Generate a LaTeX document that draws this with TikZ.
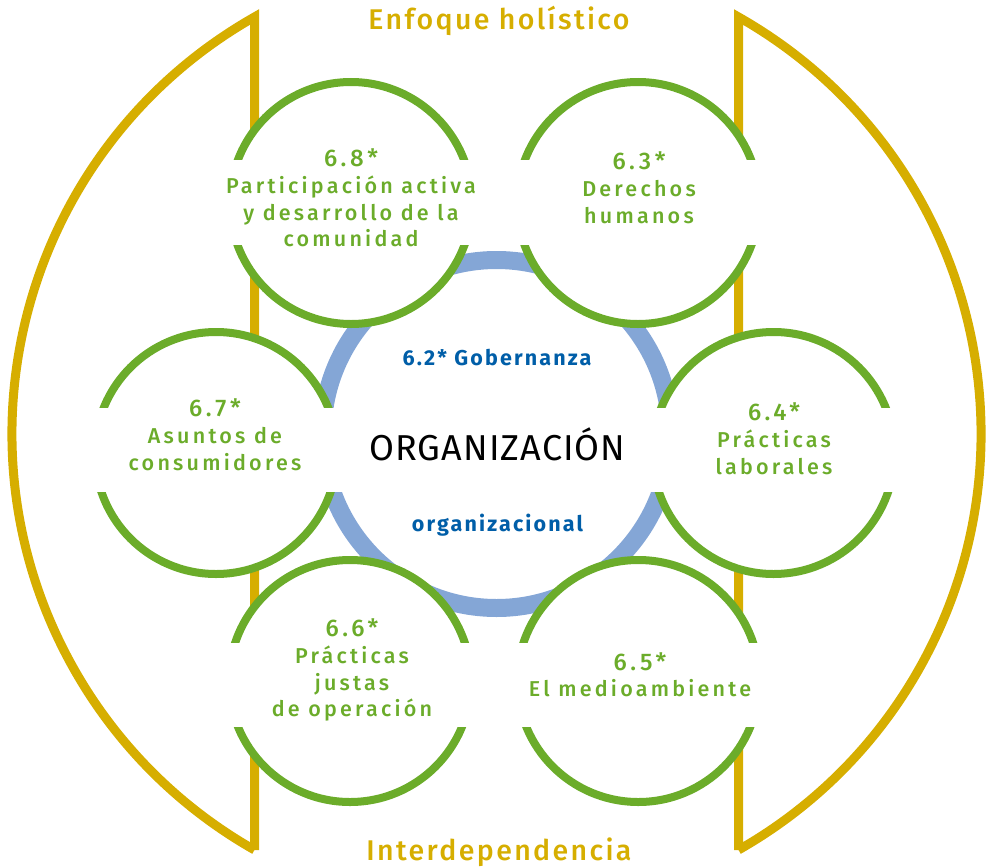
\documentclass[tikz,border=0pt]{standalone}
\usepackage{fontspec}
\setmainfont{Fira Sans}
\newfontfamily\greenfont[LetterSpace=15]{Fira Sans Medium}
\newfontfamily\goldfont[LetterSpace=8.3]{Fira Sans Medium}
\newfontfamily\inkfont[LetterSpace=10]{Fira Sans}
\newfontfamily\orgfont[LetterSpace=3]{Fira Sans}
\definecolor{gold}{RGB}{214,174,0}
\definecolor{leaf}{RGB}{107,172,42}
\definecolor{ringblue}{RGB}{132,166,214}
\definecolor{ink}{RGB}{0,94,168}
\newcommand\numsize{\fontsize{24}{26.7}\selectfont}
\begin{document}
\begin{tikzpicture}[x=1pt,y=-1pt,
  goldline/.style={draw=gold,line width=9pt,miter limit=10},
  ringline/.style={circle,draw=ringblue,line width=18pt,minimum size=348pt,inner sep=0pt},
  topic/.style={circle,draw=leaf,fill=white,line width=8pt,minimum size=242pt,inner sep=0pt},
  band/.style={fill=white},
  label/.style={text=leaf,align=center,anchor=base,inner sep=0pt,font=\greenfont\fontsize{21.5}{26.7}\selectfont},
  goldtext/.style={text=gold,anchor=base,inner sep=0pt,font=\goldfont\fontsize{28.5}{32}\selectfont},
  inktext/.style={text=ink,anchor=base,inner sep=0pt,font=\inkfont\bfseries\fontsize{21.5}{24}\selectfont}]
\useasboundingbox (0,0) rectangle (987,867);
% holistic outline
\draw[goldline] (254.5,850) -- (254.5,17) arc[start angle=240.42,end angle=119.58,radius=478.9] -- cycle;
\draw[goldline] (738.5,850) -- (738.5,17) arc[start angle=-60.42,end angle=60.42,radius=478.9] -- cycle;
% governance ring
\node[ringline] (ring) at (496.5,434) {};
% subject circles
\node[topic] (t68) at (351,203) {};
\node[topic] (t63) at (638,203) {};
\node[topic] (t67) at (216,453) {};
\node[topic] (t64) at (773.5,453) {};
\node[topic] (t66) at (350,681) {};
\node[topic] (t65) at (638.3,681) {};
% text bands
\fill[band] (223,160) rectangle (479,245);
\fill[band] (510,160) rectangle (766,245);
\fill[band] (85,407.5) rectangle (905,492);
\fill[band] (222,642.7) rectangle (478,727.3);
\fill[band] (510,642.7) rectangle (766,727.3);
% labels
\node[label] (l68) at (351,246.7) {{\numsize 6.8*}\\Participación activa\\y desarrollo de la\\comunidad};
\node[label] (l63) at (639,223.3) {{\numsize 6.3*}\\Derechos\\humanos};
\node[label] (l67) at (215,470) {{\numsize 6.7*}\\Asuntos de\\consumidores};
\node[label] (l64) at (774,474) {{\numsize 6.4*}\\Prácticas\\laborales};
\node[label] (l66) at (352,716.7) {{\numsize 6.6*}\\Prácticas\\justas\\de operación};
\node[label] (l65) at (640,696.7) {{\numsize 6.5*}\\El medioambiente};
% centre
\node[anchor=base,inner sep=0pt,font=\orgfont\fontsize{36}{40}\selectfont] (org) at (497.5,460) {ORGANIZACIÓN};
\node[inktext] (gob) at (497,365) {6.2* Gobernanza};
\node[inktext] (orgl) at (497.5,531.7) {organizacional};
% outer labels
\node[goldtext] (hol) at (499,30) {Enfoque holístico};
\node[goldtext] (inter) at (499,860.7) {Interdependencia};
\end{tikzpicture}
\end{document}
